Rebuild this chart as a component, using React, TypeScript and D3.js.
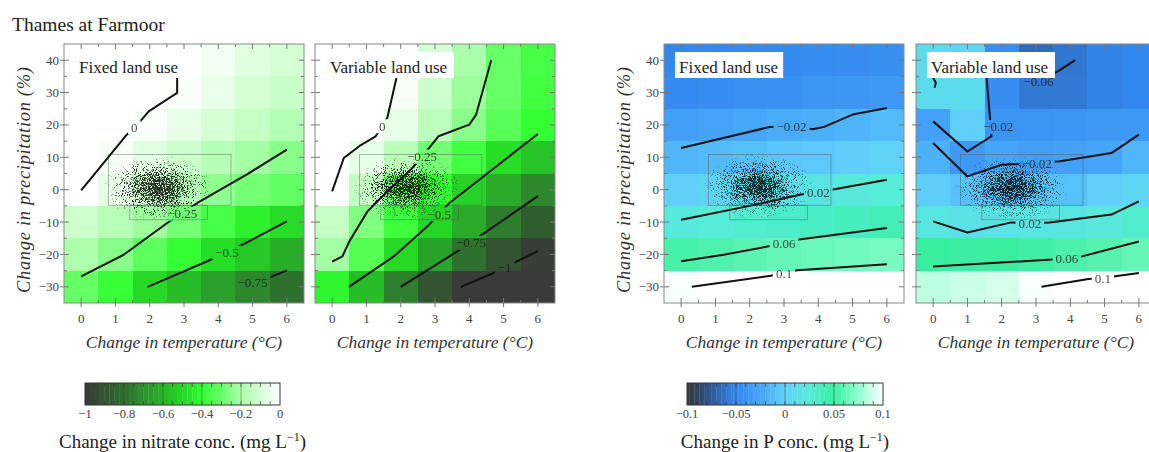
import React from "react";
import * as d3 from "d3";

const W = 1149;
const H = 452;
const FONT = '"Liberation Serif", "Times New Roman", Times, serif';

// ---------------- data ----------------
const temperatures = [0, 1, 2, 3, 4, 5, 6];
const precipitations = [40, 30, 20, 10, 0, -10, -20, -30];
const xTickValues = [0, 1, 2, 3, 4, 5, 6];
const yTickValues = [40, 30, 20, 10, 0, -10, -20, -30];

// rows follow precipitations (40 .. -30), columns follow temperatures (0 .. 6)
const nitrateFixed = [
  [0.1, 0.08, 0.05, 0.01, -0.03, -0.07, -0.1],
  [0.08, 0.05, 0.02, -0.01, -0.05, -0.1, -0.13],
  [0.05, 0.015, -0.01, -0.06, -0.1, -0.14, -0.18],
  [0.02, -0.02, -0.07, -0.12, -0.17, -0.21, -0.25],
  [0.0, -0.06, -0.12, -0.17, -0.24, -0.28, -0.31],
  [-0.12, -0.17, -0.22, -0.28, -0.36, -0.43, -0.49],
  [-0.19, -0.25, -0.32, -0.4, -0.48, -0.55, -0.62],
  [-0.3, -0.39, -0.5, -0.58, -0.66, -0.73, -0.8],
];
const nitrateVariable = [
  [0.05, 0.03, -0.005, -0.1, -0.2, -0.3, -0.36],
  [0.06, 0.03, -0.02, -0.12, -0.22, -0.3, -0.37],
  [0.08, 0.02, -0.06, -0.16, -0.25, -0.33, -0.4],
  [0.02, -0.06, -0.16, -0.28, -0.37, -0.48, -0.56],
  [0.0, -0.14, -0.28, -0.4, -0.52, -0.63, -0.73],
  [-0.14, -0.26, -0.38, -0.51, -0.63, -0.76, -0.86],
  [-0.21, -0.34, -0.5, -0.65, -0.8, -0.9, -0.99],
  [-0.42, -0.58, -0.75, -0.9, -1.02, -1.08, -1.12],
];
const phosFixed = [
  [-0.05, -0.049, -0.048, -0.047, -0.046, -0.045, -0.044],
  [-0.047, -0.045, -0.043, -0.041, -0.039, -0.037, -0.035],
  [-0.03, -0.027, -0.024, -0.021, -0.02, -0.016, -0.012],
  [-0.015, -0.012, -0.009, -0.006, -0.004, -0.001, 0.002],
  [0.0, 0.004, 0.008, 0.012, 0.018, 0.022, 0.025],
  [0.022, 0.025, 0.028, 0.031, 0.034, 0.037, 0.04],
  [0.054, 0.056, 0.059, 0.062, 0.064, 0.066, 0.068],
  [0.098, 0.101, 0.104, 0.106, 0.108, 0.11, 0.112],
];
const phosVariable = [
  [0.01, 0.005, -0.045, -0.066, -0.059, -0.052, -0.05],
  [0.01, 0.01, -0.045, -0.058, -0.058, -0.052, -0.05],
  [-0.028, 0.0, -0.04, -0.04, -0.038, -0.035, -0.035],
  [-0.018, -0.035, -0.025, -0.03, -0.028, -0.025, -0.015],
  [-0.002, -0.008, -0.008, -0.008, -0.008, 0.0, 0.005],
  [0.02, 0.015, 0.017, 0.018, 0.019, 0.022, 0.03],
  [0.05, 0.048, 0.05, 0.052, 0.055, 0.058, 0.062],
  [0.085, 0.088, 0.09, 0.098, 0.105, 0.11, 0.112],
];

type Pt = [number, number];
type Contour = { label: string; at: Pt | null; pts: Pt[] };

const nitrateFixedContours: Contour[] = [
  { label: "0", at: [1.55, 19.3], pts: [[0, -0.2], [1.29, 16.5], [1.78, 21.8], [1.97, 24.2], [2.8, 29.9], [2.8, 40]] },
  { label: "-0.25", at: [2.95, -7.4], pts: [[0, -26.8], [1.24, -20.1], [2.51, -10.3], [3.39, -4.1], [4.85, 4.8], [6, 12.4]] },
  { label: "-0.5", at: [4.25, -19.4], pts: [[1.94, -30], [3.68, -22.1], [4.8, -16.5], [6, -9.8]] },
  { label: "-0.75", at: [5.0, -28.5], pts: [[4.7, -30], [5.1, -28.4], [5.52, -27], [6, -24.9]] },
];
const nitrateVariableContours: Contour[] = [
  { label: "0", at: [1.46, 19.6], pts: [[0, -0.5], [0.34, 9.8], [0.8, 13.5], [1.27, 16.5], [1.61, 22.2], [1.875, 34.5], [1.95, 40]] },
  { label: "-0.25", at: [2.62, 10.2], pts: [[0, -22.2], [0.3, -20.6], [0.5, -16], [1.03, -6.7], [1.46, -2.1], [2.34, 6.7], [2.83, 12.9], [3.1, 16.5], [4.0, 20.1], [4.2, 23.2], [4.64, 40]] },
  { label: "-0.5", at: [3.12, -7.6], pts: [[0.49, -30], [1.8, -20.6], [2.83, -10.8], [3.42, -4.1], [6, 17.2]] },
  { label: "-0.75", at: [4.05, -16.4], pts: [[2.0, -30], [3.66, -19], [4.44, -13.4], [6, -2]] },
  { label: "-1", at: [5.03, -24], pts: [[3.76, -30], [4.69, -25.8], [5.37, -22.2], [6, -19]] },
];
const phosFixedContours: Contour[] = [
  { label: "-0.02", at: [3.22, 19.5], pts: [[0, 12.9], [2.6, 19.4], [3.24, 19.8], [3.83, 18.7], [4.17, 19.4], [5.0, 23.2], [6, 25.2]] },
  { label: "0.02", at: [4.0, -0.8], pts: [[0, -9.3], [2, -5], [3.49, -1.5], [4.51, 0.2], [6, 3.1]] },
  { label: "0.06", at: [3.0, -16.6], pts: [[0, -22.1], [1.24, -20.1], [3.0, -16.6], [3.44, -15.4], [6, -11.8]] },
  { label: "0.1", at: [3.0, -25.8], pts: [[0.31, -30], [2.61, -26.6], [3.39, -24.9], [6, -23]] },
];
const phosVariableContours: Contour[] = [
  { label: "-0.06", at: [3.07, 33.3], pts: [[2.5, 35.8], [3.07, 33.4], [3.65, 36.6], [4.14, 40]] },
  { label: "-0.02", at: [1.9, 19.4], pts: [[0, 21.1], [1.0, 11.8], [1.7, 16.5], [1.65, 23.2], [1.55, 36], [1.5, 40]] },
  { label: "", at: null, pts: [[0, 34.5], [0.08, 33], [0.04, 31.5]] },
  { label: "-0.02", at: [3.02, 8.1], pts: [[0, 14.4], [1.0, 4.1], [2.0, 7.7], [3.02, 8.2], [3.7, 8.8], [5.2, 11.3], [6, 17]] },
  { label: "0.02", at: [2.82, -10.4], pts: [[0, -9.8], [1.0, -13.2], [2.28, -10.1], [2.82, -10.4], [3.4, -10.1], [5.2, -7.7], [6, -3.6]] },
  { label: "0.06", at: [3.9, -21.1], pts: [[0, -23.7], [3.46, -21.6], [3.9, -21.1], [4.34, -20.6], [6, -16]] },
  { label: "0.1", at: [4.95, -27.4], pts: [[3.16, -30], [4.53, -27.6], [4.95, -27.3], [6, -25.7]] },
];

// scenario cloud (centre x, centre y, half-width in degC, half-height in %)
const cloudCentreX = [2.25, 2.2, 2.25, 2.3];
const cloudCentreY = [0.5, 0.5, 1.0, 0.5];
const cloudHalfX = [1.65, 1.65, 1.65, 1.7];
const cloudHalfY = [10.5, 10.5, 10.5, 10.5];
// range boxes [x0, x1, y0, y1]
const cloudBoxes: [number, number, number, number][] = [
  [0.8, 4.37, -4.8, 10.9],
  [1.42, 3.68, -9.3, -4.8],
];

const nitrateStops = [-1, -0.85, -0.7, -0.55, -0.45, -0.4, -0.3, -0.2, 0];
const nitrateColors = ["#3a3a3a", "#2f5f2f", "#2d912d", "#25c825", "#28e828", "#33ff33", "#66ff66", "#aaffaa", "#ffffff"];
const phosStops = [-0.1, -0.075, -0.05, -0.025, 0, 0.025, 0.05, 0.075, 0.1];
const phosColors = ["#333333", "#2d5a99", "#3388ee", "#45a5f8", "#60d0fa", "#55ecd8", "#3aeea0", "#90ffd0", "#ffffff"];

const nitrateBarTicks = [-1, -0.8, -0.6, -0.4, -0.2, 0];
const phosBarTicks = [-0.1, -0.05, 0, 0.05, 0.1];

// ---------------- layout ----------------
const PW = 240;
const PH = 259;
const TOP = 44;

const nitrateColor = d3.scaleLinear<string>().domain(nitrateStops).range(nitrateColors).interpolate(d3.interpolateRgb).clamp(true);
const phosColor = d3.scaleLinear<string>().domain(phosStops).range(phosColors).interpolate(d3.interpolateRgb).clamp(true);

const fmt = (s: string | number) => String(s).replace("-", "\u2212");
const labelWidth = (s: string, fs: number) => {
  let em = 0;
  for (const c of s) em += c === "." ? 0.25 : c === "-" ? 0.56 : 0.5;
  return em * fs;
};

type PanelProps = {
  idx: number;
  left: number;
  grid: number[][];
  contours: Contour[];
  color: (v: number) => string;
  title: string;
  showY: boolean;
};

function Panel({ idx, left, grid, contours, color, title, showY }: PanelProps) {
  const x = d3.scaleLinear().domain([-0.5, 6.5]).range([left, left + PW]);
  const y = d3.scaleLinear().domain([-35, 45]).range([TOP + PH, TOP]);
  const line = d3.line<Pt>().x((d) => x(d[0])).y((d) => y(d[1]));
  const clipId = `clip${idx}`;
  const maskId = `mask${idx}`;
  const filtId = `speck${idx}`;
  const bottom = TOP + PH;
  const right = left + PW;

  const cx = x(cloudCentreX[idx]);
  const cy = y(cloudCentreY[idx]);
  const rx = x(cloudCentreX[idx] + cloudHalfX[idx]) - cx;
  const ry = cy - y(cloudCentreY[idx] + cloudHalfY[idx]);

  const labFs = 13;
  const titleFs = 17;
  let titleEm = 0;
  for (const c of title) titleEm += c === " " ? 0.25 : "lit".includes(c) ? 0.278 : c === "V" ? 0.722 : c === "F" ? 0.556 : c === "r" ? 0.333 : c === "s" ? 0.389 : c === "a" || c === "e" ? 0.444 : 0.5;
  const titleW = titleEm * titleFs + 9;

  const minorX = d3.range(0.5, 6, 1);
  const minorY = d3.range(-25, 45, 10);

  return (
    <g>
      <defs>
        <clipPath id={clipId}>
          <rect x={left} y={TOP} width={PW} height={PH} />
        </clipPath>
        <mask id={maskId} maskUnits="userSpaceOnUse" x={0} y={0} width={W} height={H}>
          <rect x={0} y={0} width={W} height={H} fill="white" />
          {contours.filter((c) => c.at).map((c, i) => {
            const w = labelWidth(c.label, labFs) + 6;
            return <rect key={i} x={x(c.at![0]) - w / 2} y={y(c.at![1]) - 7} width={w} height={14} fill="black" />;
          })}
        </mask>
        <filter id={filtId} filterUnits="userSpaceOnUse" x={cx - rx - 4} y={cy - ry - 4} width={2 * rx + 8} height={2 * ry + 8} colorInterpolationFilters="sRGB">
          <feTurbulence type="fractalNoise" baseFrequency="1.1" numOctaves={2} seed={idx * 7 + 3} result="noise" />
          <feColorMatrix in="noise" type="matrix" values="0 0 0 0 0  0 0 0 0 0  0 0 0 0 0  2.6 0 0 0 -0.8" result="thr" />
          <feComposite in="SourceGraphic" in2="thr" operator="arithmetic" k1={0} k2={4} k3={-4} k4={0} />
        </filter>
      </defs>
      <g clipPath={`url(#${clipId})`}>
        {grid.map((row, r) =>
          row.map((v, c) => {
            const t = temperatures[c];
            const p = precipitations[r];
            return (
              <rect
                key={`${r}-${c}`}
                x={x(t - 0.5)}
                y={y(p + 5)}
                width={x(t + 0.5) - x(t - 0.5)}
                height={y(p - 5) - y(p + 5)}
                fill={color(v)}
                shapeRendering="crispEdges"
              />
            );
          })
        )}
        <ellipse cx={cx} cy={cy} rx={rx} ry={ry} fill="url(#cloudGrad)" filter={`url(#${filtId})`} opacity={0.8} />
        {cloudBoxes.map((b, i) => (
          <rect key={i} x={x(b[0])} y={y(b[3])} width={x(b[1]) - x(b[0])} height={y(b[2]) - y(b[3])} fill="none" stroke="#555" strokeWidth={0.7} opacity={0.6} />
        ))}
        <g mask={`url(#${maskId})`}>
          {contours.map((c, i) => (
            <path key={i} d={line(c.pts) || ""} fill="none" stroke="#111" strokeWidth={2} strokeLinejoin="round" />
          ))}
        </g>
        {contours.filter((c) => c.at).map((c, i) => (
          <text key={i} x={x(c.at![0])} y={y(c.at![1])} dy="0.35em" textAnchor="middle" fontSize={labFs} fontFamily={FONT} fill="#1a1a1a" opacity={0.8}>
            {fmt(c.label)}
          </text>
        ))}
      </g>
      {/* land-use label */}
      <rect x={left + 11} y={52} width={titleW} height={26} fill="white" />
      <text x={left + 15} y={73} fontSize={titleFs} fontFamily={FONT} fill="#222">
        {title}
      </text>
      {/* frame and ticks */}
      <rect x={left} y={TOP} width={PW} height={PH} fill="none" stroke="#888" strokeWidth={1} />
      <g stroke="#777" strokeWidth={1}>
        {xTickValues.map((t) => (
          <g key={`xt${t}`}>
            <line x1={x(t)} x2={x(t)} y1={bottom + 4} y2={bottom - 5} />
            <line x1={x(t)} x2={x(t)} y1={TOP} y2={TOP + 5} />
          </g>
        ))}
        {minorX.map((t) => (
          <g key={`xm${t}`}>
            <line x1={x(t)} x2={x(t)} y1={bottom} y2={bottom - 3} />
            <line x1={x(t)} x2={x(t)} y1={TOP} y2={TOP + 3} />
          </g>
        ))}
        {yTickValues.map((t) => (
          <g key={`yt${t}`}>
            <line x1={left - 4} x2={left + 5} y1={y(t)} y2={y(t)} />
            <line x1={right - 5} x2={right} y1={y(t)} y2={y(t)} />
          </g>
        ))}
        {minorY.map((t) => (
          <g key={`ym${t}`}>
            <line x1={left} x2={left + 3} y1={y(t)} y2={y(t)} />
            <line x1={right - 3} x2={right} y1={y(t)} y2={y(t)} />
          </g>
        ))}
      </g>
      {xTickValues.map((t) => (
        <text key={`xl${t}`} x={x(t)} y={323} textAnchor="middle" fontSize={13} fontFamily={FONT} fill="#444">
          {t}
        </text>
      ))}
      <text x={left + PW / 2} y={348} textAnchor="middle" fontSize={17.5} fontStyle="italic" fontFamily={FONT} fill="#333">
        Change in temperature (°C)
      </text>
      {showY && (
        <g>
          {yTickValues.map((t) => (
            <text key={`yl${t}`} x={left - 5} y={y(t) + 4.5} textAnchor="end" fontSize={13} fontFamily={FONT} fill="#444">
              {fmt(t)}
            </text>
          ))}
          <text
            transform={`translate(${left - 34},180) rotate(-90)`}
            textAnchor="middle"
            fontSize={18.5}
            fontStyle="italic"
            fontFamily={FONT}
            fill="#333"
            textLength={226}
            lengthAdjust="spacing"
          >
            Change in precipitation (%)
          </text>
        </g>
      )}
    </g>
  );
}

type BarProps = {
  x0: number;
  x1: number;
  domain: [number, number];
  color: (v: number) => string;
  ticks: number[];
  blockStep: number;
  minorStep: number;
  title: string;
};

function ColorBar({ x0, x1, domain, color, ticks, blockStep, minorStep, title }: BarProps) {
  const y0 = 383;
  const y1 = 405;
  const s = d3.scaleLinear().domain(domain).range([x0, x1]);
  const nBlocks = Math.round((domain[1] - domain[0]) / blockStep);
  const nMinor = Math.round((domain[1] - domain[0]) / minorStep);
  return (
    <g>
      {d3.range(nBlocks).map((i) => {
        const a = domain[0] + i * blockStep;
        return <rect key={i} x={s(a)} y={y0} width={s(a + blockStep) - s(a) + 0.3} height={y1 - y0} fill={color(a + blockStep / 2)} />;
      })}
      <g stroke="#333" strokeWidth={0.8} opacity={0.8}>
        {d3.range(1, nMinor).map((i) => {
          const xv = s(domain[0] + i * minorStep);
          return (
            <g key={i}>
              <line x1={xv} x2={xv} y1={y0} y2={y0 + 4} />
              <line x1={xv} x2={xv} y1={y1 - 4} y2={y1} />
            </g>
          );
        })}
        {ticks.slice(1, -1).map((t) => (
          <line key={t} x1={s(t)} x2={s(t)} y1={y0} y2={y1} opacity={0.6} />
        ))}
      </g>
      <rect x={x0} y={y0} width={x1 - x0} height={y1 - y0} fill="none" stroke="#333" strokeWidth={1} />
      {ticks.map((t) => (
        <text key={t} x={s(t)} y={418} textAnchor="middle" fontSize={12.5} fontFamily={FONT} fill="#444">
          {fmt(t)}
        </text>
      ))}
      <text x={(x0 + x1) / 2} y={448} textAnchor="middle" fontSize={19} fontFamily={FONT} fill="#222">
        {title}
        <tspan fontSize={12} dy={-7}>
          {"\u2212"}1
        </tspan>
        <tspan dy={7}>)</tspan>
      </text>
    </g>
  );
}

export default function App() {
  return (
    <svg width={W} height={H} viewBox={`0 0 ${W} ${H}`} style={{ position: "absolute", left: 0, top: 0, background: "white", display: "block" }}>
      <defs>
        <radialGradient id="cloudGrad">
          <stop offset="0" stopColor="#000" stopOpacity={0.95} />
          <stop offset="0.25" stopColor="#000" stopOpacity={0.78} />
          <stop offset="0.55" stopColor="#000" stopOpacity={0.42} />
          <stop offset="0.8" stopColor="#000" stopOpacity={0.15} />
          <stop offset="1" stopColor="#000" stopOpacity={0} />
        </radialGradient>
      </defs>
      <rect x={0} y={0} width={W} height={H} fill="white" />
      <text x={12} y={31} fontSize={19.5} fontFamily={FONT} fill="#222">
        Thames at Farmoor
      </text>
      <Panel idx={0} left={64} grid={nitrateFixed} contours={nitrateFixedContours} color={nitrateColor} title="Fixed land use" showY={true} />
      <Panel idx={1} left={315} grid={nitrateVariable} contours={nitrateVariableContours} color={nitrateColor} title="Variable land use" showY={false} />
      <Panel idx={2} left={664} grid={phosFixed} contours={phosFixedContours} color={phosColor} title="Fixed land use" showY={true} />
      <Panel idx={3} left={916} grid={phosVariable} contours={phosVariableContours} color={phosColor} title="Variable land use" showY={false} />
      <ColorBar x0={85} x1={280} domain={[-1, 0]} color={nitrateColor} ticks={nitrateBarTicks} blockStep={0.025} minorStep={0.05} title="Change in nitrate conc. (mg L" />
      <ColorBar x0={687} x1={883} domain={[-0.1, 0.1]} color={phosColor} ticks={phosBarTicks} blockStep={0.0025} minorStep={0.01} title="Change in P conc. (mg L" />
    </svg>
  );
}
